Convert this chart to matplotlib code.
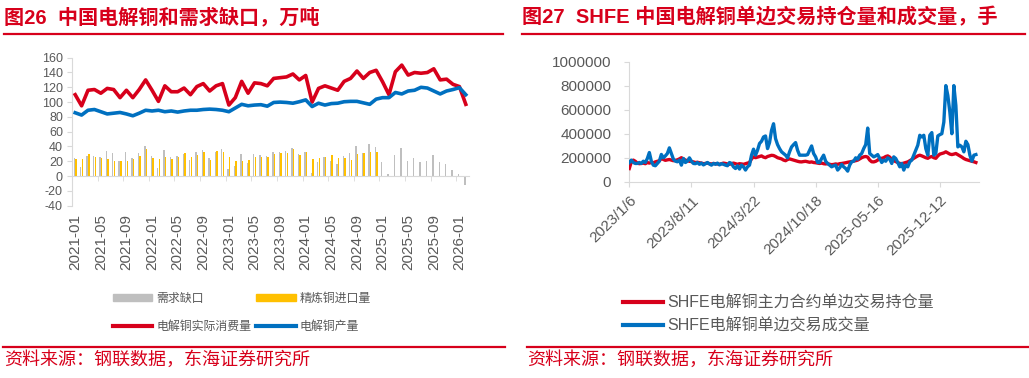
import matplotlib
matplotlib.use('Agg')
import matplotlib.pyplot as plt
from matplotlib.lines import Line2D
from matplotlib.patches import Patch
from matplotlib.ticker import FuncFormatter
import numpy as np

plt.rcParams['font.family'] = ['Liberation Sans', 'Noto Sans CJK SC', 'DejaVu Sans']
plt.rcParams['axes.unicode_minus'] = False

# ---------------- left chart data (万吨) ----------------
months = [f'{y}-{m:02d}' for y in range(2021, 2027) for m in range(1, 13)][:62]
consumption = [110, 95, 116, 117, 112, 118.5, 117, 106, 116, 106,
               117, 130, 116, 101, 122, 114, 114, 119, 110, 121,
               125, 115, 122, 125, 96, 106, 128, 112, 126, 125,
               122, 132, 133, 134, 138, 130, 136, 100, 118.5, 122,
               119, 116, 128, 132, 142, 132, 140, 143, 127.5, 110,
               141, 150, 136.5, 140, 139, 140, 145, 130, 131, 124,
               121, 97]
production = [85.6, 82.5, 89, 90, 87, 84, 85, 86, 84, 81.5,
              85, 89, 88, 89, 87, 88, 86.5, 88, 89, 89,
              90, 90.5, 90, 89, 87, 92, 97, 95, 96, 96.5,
              94.5, 99.5, 100, 99.5, 98.5, 100.5, 103, 94, 98.5, 96,
              98, 98.5, 100.5, 101, 101, 99, 97, 104, 106, 106,
              113, 111, 115, 116, 120, 119, 115, 111, 115, 117,
              119.5, 110]
demand_gap = [25, 12, 27, 26.5, 25.5, 34, 31.5, 20, 32.5, 24,
              31, 40.5, 27, 11, 35.5, 25.5, 27, 30, 21.5, 32,
              34.7, 24, 32, 36, 9.5, 14, 30, 17.6, 29.7, 28.4,
              26.6, 32.4, 32, 33.8, 38.3, 29.3, 32, 3.6, 19.4, 25.2,
              19.8, 17, 27, 30.6, 41, 30.6, 42.8, 38.8, 19.4, 2.3,
              28, 38, 21, 24, 18.5, 20, 29, 18.5, 16, 7.7,
              2.3, -12]
imports = [22.5, 23, 30, 26, 24, 22.5, 20, 21, 21, 23.5,
           27.5, 36.5, 25, 23, 26, 23, 26, 31.5, 25.7, 29,
           32, 21.6, 33.8, 32, 25.7, 20.7, 21, 21.6, 25.7, 26,
           26, 30, 31, 31, 36, 28.4, 32, 23, 24.8, 25.2,
           28.4, 24.8, 24.3, 21.6, 29.3, 31.5, 32.4, 32.4] + [np.nan] * 14

# ---------------- right chart data (千手) ----------------
date_labels = ['2023/1/6', '2023/8/11', '2024/3/22', '2024/10/18', '2025-05-16', '2025-12-12']
date_label_pos = [0, 31, 62, 93, 124, 155]
holdings_k = [110, 165, 180, 170, 155, 150, 152, 155, 150, 160,
              155, 160, 158, 165, 170, 175, 193, 185, 178, 182,
              185, 180, 175, 178, 182, 190, 200, 190, 180, 175,
              170, 168, 165, 160, 162, 158, 155, 150, 152, 155,
              150, 148, 152, 150, 148, 145, 150, 155, 152, 148,
              145, 150, 155, 150, 145, 150, 148, 145, 150, 155,
              160, 190, 207, 200, 205, 210, 215, 205, 200, 210,
              215, 220, 218, 210, 200, 195, 190, 180, 175, 185,
              190, 185, 180, 175, 170, 166, 165, 168, 170, 166,
              162, 165, 160, 158, 155, 152, 155, 150, 148, 150,
              145, 142, 144, 148, 145, 150, 152, 155, 158, 162,
              165, 168, 172, 175, 180, 190, 200, 207, 210, 205,
              180, 166, 165, 170, 180, 193, 195, 200, 210, 215,
              205, 185, 175, 168, 160, 152, 150, 155, 160, 165,
              175, 185, 195, 205, 215, 221, 215, 207, 200, 195,
              205, 210, 200, 195, 215, 230, 235, 240, 249, 240,
              230, 226, 230, 235, 225, 215, 205, 193, 185, 180,
              175, 170, 166, 160]
volume_k = [160, 180, 160, 152, 152, 160, 152, 171, 160, 193,
            243, 171, 138, 133, 152, 171, 227, 199, 215, 235,
            282, 235, 188, 171, 166, 180, 138, 193, 160, 171,
            199, 171, 152, 150, 160, 145, 155, 140, 150, 160,
            148, 138, 152, 145, 155, 140, 150, 145, 138, 133,
            160, 152, 124, 110, 133, 105, 138, 124, 97, 124,
            138, 221, 271, 221, 262, 318, 337, 373, 381, 276,
            326, 428, 483, 359, 309, 276, 249, 235, 221, 199,
            249, 290, 309, 326, 262, 221, 221, 221, 221, 226,
            262, 298, 235, 207, 160, 160, 193, 221, 171, 152,
            138, 124, 133, 138, 97, 116, 144, 124, 110, 88,
            138, 166, 171, 199, 188, 221, 235, 276, 309, 447,
            235, 221, 207, 215, 226, 193, 160, 180, 171, 199,
            188, 152, 207, 193, 160, 124, 152, 97, 138, 124,
            166, 180, 221, 262, 304, 387, 373, 387, 276, 221,
            387, 409, 221, 235, 381, 392, 400, 497, 801, 718,
            580, 400, 801, 635, 290, 304, 290, 249, 337, 309,
            221, 171, 221, 226]

RED = '#D7001B'
BLUE = '#0070C0'
GRAY = '#BFBFBF'
GOLD = '#FFC000'
TXT = '#595959'
AX = '#D9D9D9'

W, H = 1029, 378
fig = plt.figure(figsize=(W / 100, H / 100), dpi=100)

def fx(px):
    return px / W

def fy(py):
    return 1 - py / H

# ---------------- left chart ----------------
axL = fig.add_axes([fx(72), fy(205.7), fx(469 - 72), (205.7 - 57.7) / H])
x = np.arange(len(months))
axL.bar(x - 0.13, demand_gap, width=0.22, color=GRAY, zorder=2)
axL.bar(x + 0.13, imports, width=0.22, color=GOLD, zorder=2)
axL.plot(x, consumption, color=RED, lw=2.6, solid_joinstyle='round', zorder=3)
axL.plot(x, production, color=BLUE, lw=2.6, solid_joinstyle='round', zorder=4)
axL.set_xlim(-0.5, len(months) - 0.5)
axL.set_ylim(-40, 160)
axL.set_yticks(range(-40, 161, 20))
for s in ['top', 'right']:
    axL.spines[s].set_visible(False)
axL.spines['left'].set_color(AX)
axL.spines['bottom'].set_color(AX)
axL.spines['bottom'].set_position(('data', 0))
axL.set_xticks(x[::4])
axL.set_xticklabels(months[::4], rotation=90)
axL.set_xticks(np.arange(-0.5, len(months) - 1, 4), minor=True)
axL.tick_params(axis='x', which='major', length=0, pad=27, labelsize=11, colors=TXT)
axL.tick_params(axis='x', which='minor', length=3.5, color=AX, direction='out')
axL.tick_params(axis='y', length=3.5, color=AX, labelsize=9, labelcolor=TXT, pad=3)

handlesL = [Patch(color=GRAY), Line2D([], [], color=RED, lw=3),
            Patch(color=GOLD), Line2D([], [], color=BLUE, lw=3)]
labelsL = ['需求缺口', '电解铜实际消费量', '精炼铜进口量', '电解铜产量']
fig.legend(handlesL, labelsL, loc='upper left', bbox_to_anchor=(fx(113), fy(293)),
           ncol=2, frameon=False, fontsize=8.6, handlelength=3.3, handleheight=0.5,
           handletextpad=0.35, columnspacing=0.4, labelspacing=1.3,
           borderpad=0, borderaxespad=0, labelcolor=TXT)

# ---------------- right chart ----------------
axR = fig.add_axes([fx(629.3), fy(181.7), fx(350), 120 / H])
idx = np.arange(len(volume_k))
axR.plot(idx, np.array(holdings_k) * 1000, color=RED, lw=2.4, solid_joinstyle='round', zorder=3)
axR.plot(idx, np.array(volume_k) * 1000, color=BLUE, lw=2.4, solid_joinstyle='round', zorder=4)
axR.set_xlim(0, 174.7)
axR.set_ylim(0, 1000000)
axR.set_yticks(range(0, 1000001, 200000))
axR.yaxis.set_major_formatter(FuncFormatter(lambda v, p: f'{int(v)}'))
for s in ['top', 'right']:
    axR.spines[s].set_visible(False)
axR.spines['left'].set_color(AX)
axR.spines['bottom'].set_color(AX)
axR.set_xticks(date_label_pos)
axR.set_xticklabels(date_labels, rotation=45, ha='right', rotation_mode='anchor')
axR.tick_params(axis='x', length=3.5, color=AX, labelsize=11, labelcolor=TXT, pad=5)
axR.tick_params(axis='y', length=3.5, color=AX, labelsize=11, labelcolor=TXT, pad=9.5)

handlesR = [Line2D([], [], color=RED, lw=3), Line2D([], [], color=BLUE, lw=3)]
labelsR = ['SHFE电解铜主力合约单边交易持仓量', 'SHFE电解铜单边交易成交量']
fig.legend(handlesR, labelsR, loc='upper left', bbox_to_anchor=(fx(623), fy(295)),
           ncol=1, frameon=False, fontsize=11.5, handlelength=2.5,
           handletextpad=0.3, labelspacing=0.52,
           borderpad=0, borderaxespad=0, labelcolor=TXT)

# ---------------- titles & footers ----------------
fig.text(fx(4), fy(17), '图26  中国电解铜和需求缺口，万吨', color=RED, fontsize=14.5,
         fontweight='bold', va='center', ha='left')
fig.text(fx(522), fy(17), '图27  SHFE 中国电解铜单边交易持仓量和成交量，手', color=RED,
         fontsize=14.5, fontweight='bold', va='center', ha='left')
for x0, x1 in [(4, 503), (522, 1025)]:
    fig.add_artist(Line2D([fx(x0), fx(x1)], [fy(34), fy(34)], color=RED, lw=1.6))
for x0, x1 in [(3, 505), (527, 1029)]:
    fig.add_artist(Line2D([fx(x0), fx(x1)], [fy(347), fy(347)], color=RED, lw=1.6))
fig.text(fx(4), fy(360), '资料来源：钢联数据，东海证券研究所', color=RED, fontsize=13,
         va='center', ha='left')
fig.text(fx(527), fy(360), '资料来源：钢联数据，东海证券研究所', color=RED, fontsize=13,
         va='center', ha='left')

fig.savefig('out.png', dpi=100)
